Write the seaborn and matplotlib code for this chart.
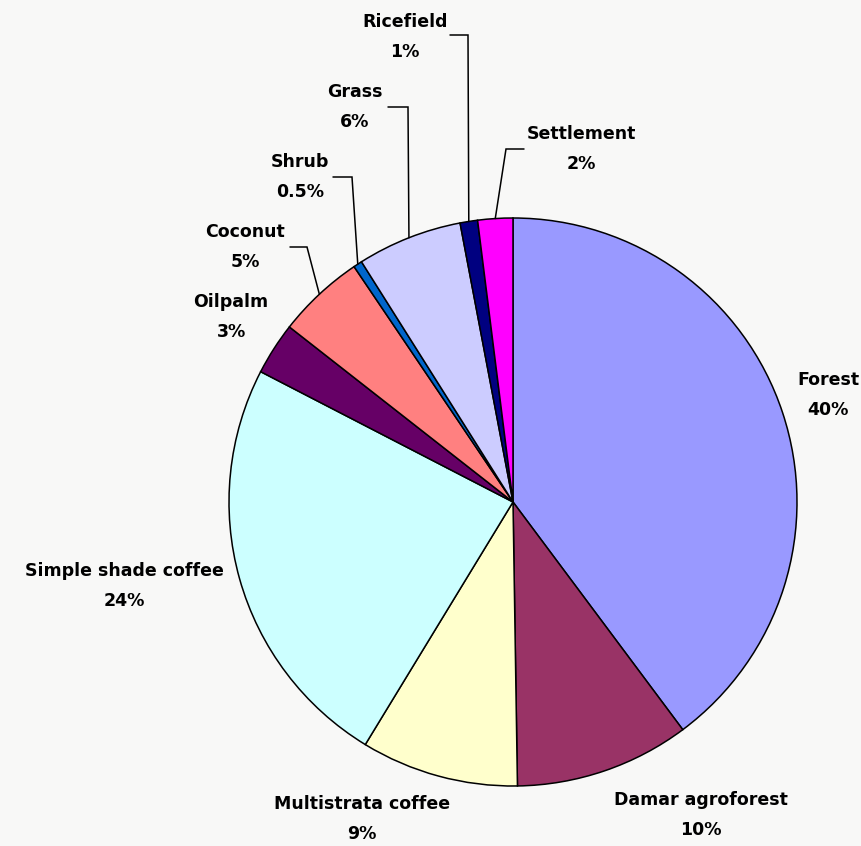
import matplotlib.pyplot as plt
import seaborn as sns
import numpy as np

# land use shares (%), clockwise from 12 o'clock
categories = ['Forest', 'Damar agroforest', 'Multistrata coffee', 'Simple shade coffee',
              'Oilpalm', 'Coconut', 'Shrub', 'Grass', 'Ricefield', 'Settlement']
shares = [40, 10, 9, 24, 3, 5, 0.5, 6, 1, 2]
colors = ['#9999ff', '#993366', '#ffffcc', '#ccffff', '#660066',
          '#ff8080', '#0066cc', '#ccccff', '#000080', '#ff00ff']

W, H = 861, 846
bg = '#f8f8f7'
center_px = (513, 502)
radius_px = 284

# label centres in pixels (first line), second line sits 30 px lower
label_pos = {
    'Forest': (828, 380),
    'Damar agroforest': (701, 800),
    'Multistrata coffee': (362, 804),
    'Simple shade coffee': (124, 571),
    'Oilpalm': (231, 302),
    'Coconut': (245, 232),
    'Shrub': (300, 162),
    'Grass': (355, 92),
    'Ricefield': (405, 22),
    'Settlement': (581, 134),
}
# leader lines: horizontal tick (x start, x elbow, y) then down to the wedge
leaders = {
    'Coconut': (290, 307, 247),
    'Shrub': (333, 352, 177),
    'Grass': (388, 408, 107),
    'Ricefield': (450, 468, 35),
    'Settlement': (524, 506, 149),
}

sns.set_style('white')
plt.rcParams['font.family'] = ['DejaVu Sans']
plt.rcParams['text.color'] = 'black'

fig = plt.figure(figsize=(W / 100, H / 100), dpi=100, facecolor=bg)
ax = fig.add_axes([0, 0, 1, 1], facecolor=bg)

cx, cy = center_px[0], H - center_px[1]
wedges, _ = ax.pie(shares, colors=colors, startangle=90, counterclock=False,
                   center=(cx, cy), radius=radius_px,
                   wedgeprops=dict(edgecolor='black', linewidth=1.1))

ax.set_xlim(0, W)
ax.set_ylim(0, H)
ax.set_aspect('equal')
ax.axis('off')

for name, val, w in zip(categories, shares, wedges):
    x, y = label_pos[name]
    ax.text(x, H - y, name, ha='center', va='center', fontsize=12.5,
            fontweight='bold', color='black')
    ax.text(x, H - y - 30, f'{val:g}%', ha='center', va='center', fontsize=12.5,
            fontweight='bold', color='black')
    if name in leaders:
        x0, x1, yl = leaders[name]
        th = np.deg2rad((w.theta1 + w.theta2) / 2)
        ex = cx + radius_px * np.cos(th)
        ey = cy + radius_px * np.sin(th)
        ax.plot([x0, x1, ex], [H - yl, H - yl, ey], color='black', lw=1.1,
                solid_joinstyle='miter')

fig.savefig('out.png', dpi=100, facecolor=bg)
plt.close(fig)
